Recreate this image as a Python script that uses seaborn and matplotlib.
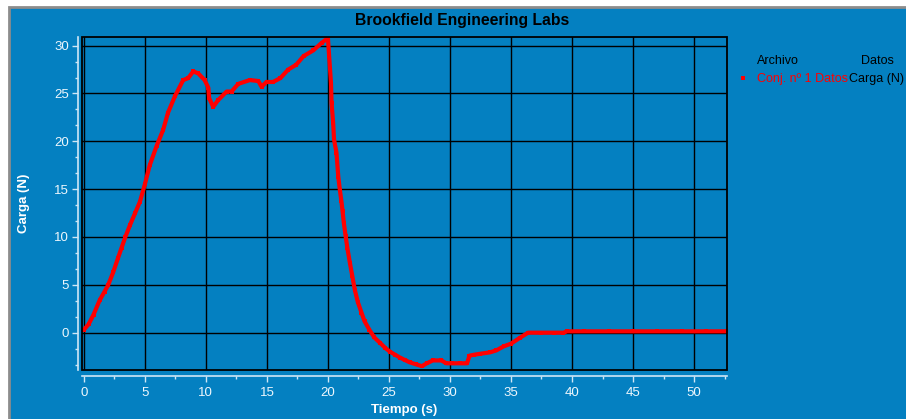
import numpy as np
import pandas as pd
import matplotlib
matplotlib.use("Agg")
import matplotlib.pyplot as plt
from matplotlib.patches import Rectangle
from matplotlib.ticker import MultipleLocator, AutoMinorLocator
import seaborn as sns

# Load curve: time (s) and load (N)
tiempo = [0.0, 0.4, 0.8, 1.3, 1.7, 2.0, 2.4, 2.8, 3.1, 3.4, 3.8, 4.2, 4.6, 5.0,
          5.4, 5.96, 6.5, 6.9, 7.46, 8.14, 8.55, 8.96, 9.37, 9.9, 10.2, 10.27,
          10.6, 11.0, 11.7, 12.1, 12.65, 13.6, 14.3, 14.56, 14.97, 15.5, 16.1,
          16.75, 17.4, 18.0, 18.8, 19.5, 20.0, 20.1, 20.25, 20.3, 20.43, 20.5,
          20.7, 20.85, 20.98, 21.1, 21.2, 21.3, 21.45, 21.6, 21.8, 22.0, 22.2,
          22.45, 22.75, 23.0, 23.4, 23.8, 24.3, 24.7, 25.1, 25.5, 25.9, 26.3,
          26.7, 27.2, 27.7, 28.1, 28.6, 29.3, 29.7, 30.2, 30.8, 31.4, 31.6,
          32.0, 32.5, 33.3, 33.8, 34.4, 35.0, 35.7, 36.4, 37.5, 38.5, 39.3,
          39.6, 41.0, 43.0, 45.0, 47.0, 49.0, 51.0, 52.7]
carga = [0.3, 0.9, 1.9, 3.4, 4.3, 5.0, 6.3, 7.8, 8.9, 10.0, 11.3, 12.5, 13.7, 15.5,
         17.5, 19.5, 21.2, 23.0, 24.7, 26.4, 26.6, 27.3, 27.1, 26.4, 25.6, 24.5,
         23.6, 24.3, 25.2, 25.2, 26.0, 26.4, 26.3, 25.7, 26.2, 26.2, 26.6,
         27.5, 28.0, 28.9, 29.5, 30.3, 30.8, 28.9, 26.1, 24.0, 21.9, 20.2,
         18.8, 16.3, 14.9, 13.8, 12.7, 11.5, 10.1, 8.8, 7.3, 5.9, 4.5,
         3.2, 2.1, 1.2, 0.3, -0.5, -1.1, -1.6, -2.0, -2.3, -2.6, -2.85,
         -3.1, -3.3, -3.5, -3.2, -2.9, -2.9, -3.2, -3.2, -3.2, -3.2, -2.4,
         -2.3, -2.2, -2.05, -1.85, -1.43, -1.15, -0.56, 0.0, 0.0, 0.0, 0.0,
         0.14, 0.14, 0.14, 0.14, 0.14, 0.14, 0.14, 0.14]

titulo = "Brookfield Engineering Labs"
etiqueta_x = "Tiempo (s)"
etiqueta_y = "Carga (N)"
leyenda_cab = ["Archivo", "Datos"]
leyenda_fila = ["Conj. nº 1 Datos", "Carga (N)"]

df = pd.DataFrame({"t": tiempo, "F": carga})

sns.set_theme(style="white")
plt.rcParams["font.family"] = ["Liberation Sans", "DejaVu Sans"]

azul = "#0480c1"
claro = "#cfe7f6"

fig = plt.figure(figsize=(9.06, 4.19), dpi=100, facecolor="white")
# blue panel with grey border at left/top, kept behind the axes
fig.patches.append(Rectangle((9 / 906, -0.01), 1.0, 1 - 7 / 419 + 0.01,
                             transform=fig.transFigure, facecolor=azul,
                             edgecolor="#8c8c8c", lw=2.0, zorder=-5))

ax = fig.add_axes([82 / 906, 1 - 370 / 419, (727 - 82) / 906, (370 - 37) / 419])
ax.set_zorder(2)
ax.set_facecolor(azul)

sns.lineplot(data=df, x="t", y="F", ax=ax, color="#ff0000", lw=3.0,
             marker="s", markersize=3.3, markeredgewidth=0, estimator=None,
             sort=False, zorder=5)

ax.set_xlim(-0.15, 52.7)
ax.set_ylim(-3.9, 30.9)

ax.xaxis.set_major_locator(MultipleLocator(5))
ax.xaxis.set_minor_locator(MultipleLocator(2.5))
ax.yaxis.set_major_locator(MultipleLocator(5))
ax.yaxis.set_minor_locator(AutoMinorLocator(3))

ax.grid(True, which="major", color="black", lw=1.0)
ax.set_axisbelow(True)

for s in ["top", "right"]:
    ax.spines[s].set_visible(False)
ax.spines["left"].set_position(("outward", 3))
ax.spines["bottom"].set_position(("outward", 4))
for s in ["left", "bottom"]:
    ax.spines[s].set_color(claro)
    ax.spines[s].set_linewidth(1.2)

ax.add_patch(Rectangle((0, 0), 1, 1, transform=ax.transAxes, fill=False,
                       edgecolor="black", lw=1.3, clip_on=False, zorder=6))

ax.tick_params(axis="both", which="major", direction="out", length=4.5,
               width=1.0, color=claro, labelcolor="#eef7fd", labelsize=9.5,
               left=True, bottom=True, pad=2)
ax.tick_params(axis="x", which="major", pad=4)
ax.tick_params(axis="both", which="minor", direction="out", length=2.5,
               width=1.0, color=claro, left=True, bottom=True)

ax.set_xlabel(etiqueta_x, color="white", fontsize=9.5, fontweight="bold",
              labelpad=3)
ax.set_ylabel(etiqueta_y, color="white", fontsize=9.5, fontweight="bold",
              labelpad=17)

fig.text(462 / 906, 1 - 20 / 419, titulo, ha="center", va="center",
         fontsize=11.3, fontweight="bold", color="black")

# legend block
fs_ley = 9.0
fig.text(757 / 906, 1 - 61 / 419, leyenda_cab[0], ha="left", va="center",
         fontsize=fs_ley, color="black")
fig.text(877 / 906, 1 - 61 / 419, leyenda_cab[1], ha="center", va="center",
         fontsize=fs_ley, color="black")
fig.patches.append(Rectangle((741 / 906, 1 - 80 / 419), 4 / 906, 4 / 419,
                             transform=fig.transFigure, facecolor="#ff0000",
                             edgecolor="none", zorder=3))
fig.text(757 / 906, 1 - 79 / 419, leyenda_fila[0], ha="left", va="center",
         fontsize=fs_ley, color="#ff0000")
fig.text(849 / 906, 1 - 79 / 419, leyenda_fila[1], ha="left", va="center",
         fontsize=fs_ley, color="black")

fig.savefig("out.png", dpi=100, facecolor="white")
